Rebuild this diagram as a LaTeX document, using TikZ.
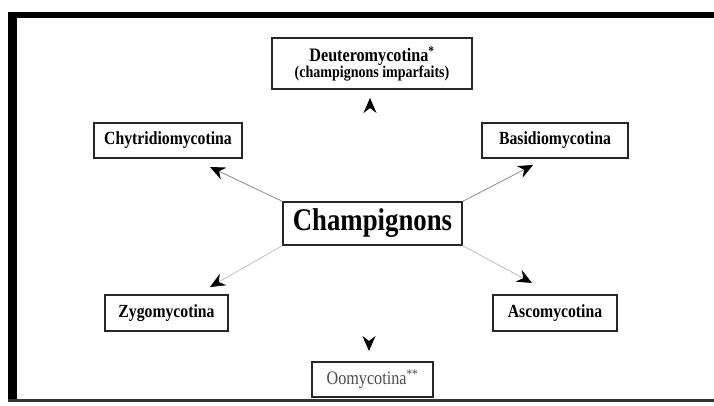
\documentclass[tikz,border=0pt]{standalone}
\usepackage{fontspec}
\setmainfont{Liberation Serif}[FakeStretch=0.85]
\usetikzlibrary{arrows.meta}
\tikzset{
  taxon/.style={draw=black!85,line width=1.2pt,inner sep=0pt,minimum height=35pt,
    font=\fontsize{18.5}{18}\selectfont\bfseries},
  link/.style={black!45,line width=0.8pt,-{Stealth[length=15pt,width=13pt,inset=5pt,black]}},
  faint/.style={link,black!25},
  hidden/.style={link,white}
}
\begin{document}
\begin{tikzpicture}[x=1pt,y=-1pt]
  \useasboundingbox (0,0) rectangle (714,405);
  \fill[white] (0,0) rectangle (714,405);
  % frame: thick top and left, thin bottom
  \fill[black] (8,12) rectangle (714,18);
  \fill[black] (8,12) rectangle (17,402);
  \fill[black!80] (8,399) rectangle (714,402);
  % centre and the six groups
  \node[taxon,minimum width=179pt,minimum height=43pt,font=\fontsize{31.5}{31}\selectfont\bfseries] (champ) at (372.5,223.5) {Champignons};
  \node[taxon,minimum width=200pt,minimum height=51pt,align=center,font=\bfseries] (deut) at (372,63.5)
    {\fontsize{19}{15}\selectfont Deuteromycotina\textsuperscript{*}\\[-1pt]\fontsize{16.5}{15}\selectfont (champignons imparfaits)};
  \node[taxon,minimum width=148pt] (chyt) at (168,140.5) {Chytridiomycotina};
  \node[taxon,minimum width=146pt] (basid) at (555,140.5) {Basidiomycotina};
  \node[taxon,minimum width=123pt,minimum height=36pt] (zygo) at (166.5,313) {Zygomycotina};
  \node[taxon,minimum width=124pt,minimum height=36pt] (asco) at (555,313) {Ascomycotina};
  \node[taxon,minimum width=121pt,font=\fontsize{19}{18}\selectfont,text=black!70] (oomy) at (372.5,379.5) {Oomycotina\textsuperscript{**}};
  % arrow tips
  \coordinate (tipdeut) at (370,98);
  \coordinate (tipchyt) at (210,167);
  \coordinate (tipbasid) at (533,165);
  \coordinate (tipzygo) at (210,287);
  \coordinate (tipasco) at (532,283);
  \coordinate (tipoomy) at (369,351);
  % arrows out of the centre
  \draw[hidden] (champ.north -| tipdeut) -- (tipdeut);
  \draw[link] (champ.north west) -- (tipchyt);
  \draw[link] (champ.north east) -- (tipbasid);
  \draw[faint] (champ.south west) -- (tipzygo);
  \draw[faint] (champ.south east) -- (tipasco);
  \draw[hidden] (champ.south -| tipoomy) -- (tipoomy);
\end{tikzpicture}
\end{document}
